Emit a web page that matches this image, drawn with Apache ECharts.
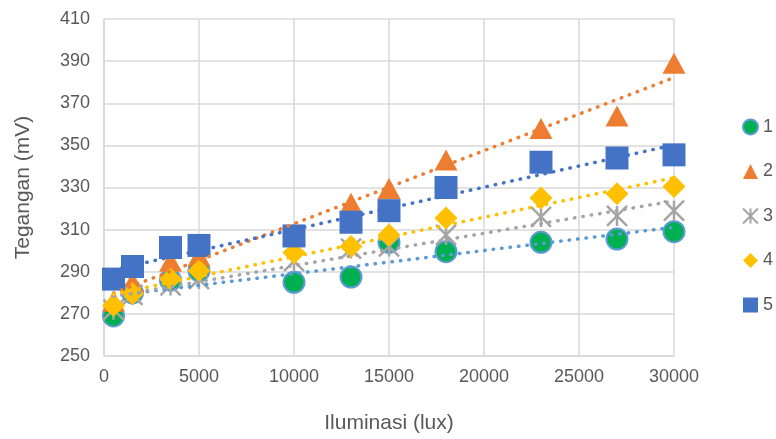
<!DOCTYPE html>
<html><head><meta charset="utf-8">
<script src="https://cdn.jsdelivr.net/npm/echarts@6/dist/echarts.min.js"></script>
<style>html,body{margin:0;padding:0;background:#fff}#c{width:776px;height:439px}</style>
</head><body><div id="c"></div>
<script>
const xValues = [500, 1500, 3500, 5000, 10000, 13000, 15000, 18000, 23000, 27000, 30000];
const s1 = [269, 280, 286, 290.5, 285, 287.5, 304, 299.5, 304, 305.5, 309];
const s2 = [276, 285, 295, 297.5, 308, 322.5, 329.5, 343, 358, 364, 389];
const s3 = [272, 279, 283.5, 286.5, 295, 301, 302, 307.5, 316, 316.5, 319];
const s4 = [274, 279.5, 286.5, 290.5, 299, 302, 307.5, 315.5, 325, 327, 330.5];
const s5 = [286.5, 292.5, 301.5, 302.5, 307, 313.5, 319, 330, 342, 344, 345.5];
const seriesNames = ['1', '2', '3', '4', '5'];
const yTicks = {min: 250, max: 410, interval: 20};
const xTicks = {min: 0, max: 30000, interval: 5000};

const allSeries = [s1, s2, s3, s4, s5];
const markerColors = ['#00B050', '#ED7D31', '#A5A5A5', '#FFC000', '#4472C4'];
const trendColors = ['#5B9BD5', '#ED7D31', '#A5A5A5', '#FFC000', '#4472C4'];
const starPath = 'path://M0,0L10,10M10,0L0,10M5,0L5,10';
const symbols = ['circle', 'triangle', starPath, 'diamond', 'rect'];
const sizes = [[21,21], [23,21], [20,20], [23,23], [23,23]];
const legendIcons = ['circle', 'triangle', starPath, 'diamond', 'rect'];

function fit(ys) {
  const n = xValues.length;
  let sx=0, sy=0, sxx=0, sxy=0;
  for (let i=0;i<n;i++){sx+=xValues[i];sy+=ys[i];sxx+=xValues[i]*xValues[i];sxy+=xValues[i]*ys[i];}
  const b=(n*sxy-sx*sy)/(n*sxx-sx*sx); const a=(sy-b*sx)/n;
  const x0=Math.min(...xValues), x1=Math.max(...xValues);
  return [[x0,a+b*x0],[x1,a+b*x1]];
}

const series = [];
allSeries.forEach((ys, i) => {
  const isStar = i === 2;
  series.push({
    name: seriesNames[i], type: 'scatter', symbol: symbols[i], symbolSize: sizes[i],
    data: xValues.map((x, j) => [x, ys[j]]), z: 2 + i,
    itemStyle: isStar ? {color: 'rgba(0,0,0,0)', borderColor: markerColors[i], borderWidth: 2.5, opacity: 1}
      : (i === 0 ? {color: markerColors[i], borderColor: '#5B9BD5', borderWidth: 2, opacity: 1} : {color: markerColors[i], borderWidth: 0, opacity: 1}),
    emphasis: {disabled: true}, animation: false
  });
});
allSeries.forEach((ys, i) => {
  series.push({
    name: 'trend' + seriesNames[i], type: 'line', data: fit(ys), symbol: 'none', z: 20,
    lineStyle: {color: trendColors[i], width: 3.5, type: [0.5, 8], cap: 'round'},
    emphasis: {disabled: true}, animation: false, silent: true
  });
});

const font = 'Liberation Sans, Arial, sans-serif';
const chart = echarts.init(document.getElementById('c'), null, {renderer: 'canvas'});
chart.setOption({
  animation: false,
  backgroundColor: '#fff',
  grid: {left: 104, right: 102, top: 19, bottom: 81.5},
  xAxis: {type: 'value', min: xTicks.min, max: xTicks.max, interval: xTicks.interval,
    name: 'Iluminasi (lux)', nameLocation: 'middle', nameGap: 57,
    nameTextStyle: {fontFamily: font, fontSize: 21, color: '#595959'},
    axisLine: {show: true, lineStyle: {color: '#D9D9D9', width: 1.5}}, axisTick: {show: false},
    axisLabel: {fontFamily: font, fontSize: 18, color: '#595959', margin: 12, formatter: v => String(v)},
    splitLine: {show: true, lineStyle: {color: '#D9D9D9', width: 1.5}}},
  yAxis: {type: 'value', min: yTicks.min, max: yTicks.max, interval: yTicks.interval,
    name: 'Tegangan (mV)', nameLocation: 'middle', nameGap: 70, nameRotate: 90,
    nameTextStyle: {fontFamily: font, fontSize: 21, color: '#595959'},
    axisLine: {show: true, lineStyle: {color: '#D9D9D9', width: 1.5}}, axisTick: {show: false},
    axisLabel: {fontFamily: font, fontSize: 18, color: '#595959', margin: 14},
    splitLine: {show: true, lineStyle: {color: '#D9D9D9', width: 1.5}}},
  legend: {orient: 'vertical', left: 742, top: 118, itemGap: 26.5, itemWidth: 15, itemHeight: 15, padding: 0,
    textStyle: {fontFamily: font, fontSize: 18, color: '#595959'},
    data: seriesNames.map((n, i) => ({name: n, icon: legendIcons[i]}))},
  series: series
});
</script></body></html>
